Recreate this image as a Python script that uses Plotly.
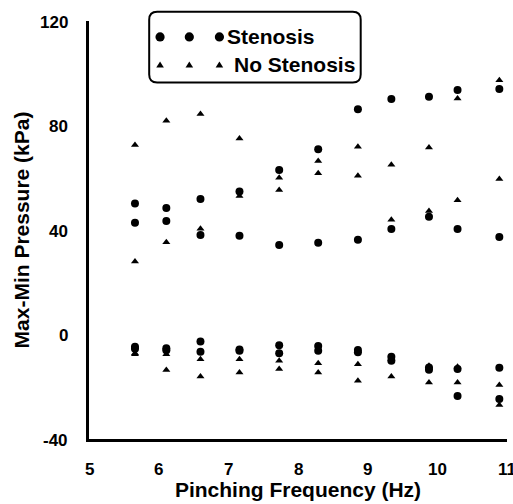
import plotly.graph_objects as go

# ---- data ----
freq = [5.66, 6.11, 6.60, 7.16, 7.73, 8.29, 8.86, 9.34, 9.88, 10.29, 10.89]

sten_upper1 = [50.1, 48.4, 51.9, 54.7, 63.0, 70.9, 86.2, 90.1, 91.0, 93.6, 94.0]
sten_upper2 = [42.8, 43.4, 38.1, 37.8, 34.3, 35.1, 36.3, 40.4, 45.1, 40.4, 37.3]
sten_lower1 = [-4.7, -5.3, -2.7, -5.7, -4.1, -4.4, -5.9, -8.5, -12.6, -13.2, -12.7]
sten_lower2 = [-5.5, -6.0, -6.6, -6.2, -7.2, -6.2, -6.8, -10.0, -13.5, -23.5, -24.7]

nosten_upper1 = [72.5, 81.8, 84.4, 75.0, 60.0, 66.4, 71.9, 65.0, 71.6, 90.3, 97.3]
nosten_upper2 = [27.9, 35.3, 40.5, 53.0, 55.3, 61.7, 60.8, 43.9, 47.3, 51.4, 59.5]
nosten_lower1 = [-7.2, -7.6, -9.5, -9.5, -10.0, -11.0, -11.4, -9.5, -12.0, -12.3, -19.3]
nosten_lower2 = [-7.6, -13.6, -16.1, -14.5, -13.2, -14.5, -17.7, -16.1, -18.4, -18.4, -27.0]

x_range = [5, 11]
y_range = [-40, 120]
x_ticks = [5, 6, 7, 8, 9, 10, 11]
x_minor = [5.5, 6.5, 7.5, 8.5, 9.5, 10.5]
y_ticks = [-40, 0, 40, 80, 120]
y_minor = [-20, 20, 60, 100]
legend_labels = ["Stenosis", "No Stenosis"]

FONT = "Liberation Sans"
BLACK = "#000000"
W, H = 513, 504
M = dict(l=89, r=6, t=21, b=65)
px_x = (W - M["l"] - M["r"]) / (x_range[1] - x_range[0])   # pixels per x unit
px_y = (H - M["t"] - M["b"]) / (y_range[1] - y_range[0])   # pixels per y unit

fig = go.Figure()

# triangles first (circles drawn on top)
for ys in [nosten_upper1, nosten_upper2, nosten_lower1, nosten_lower2]:
    fig.add_trace(go.Scatter(x=freq, y=ys, mode="markers", showlegend=False,
                             marker=dict(symbol="triangle-up", size=7, color=BLACK),
                             name=legend_labels[1]))
for ys in [sten_upper1, sten_upper2, sten_lower1, sten_lower2]:
    fig.add_trace(go.Scatter(x=freq, y=ys, mode="markers", showlegend=False,
                             marker=dict(symbol="circle", size=8, color=BLACK),
                             name=legend_labels[0]))

# ---- Origin-style outside ticks drawn as unclipped line markers ----
for vals, length in [(x_ticks, 13), (x_minor, 6.5)]:
    fig.add_trace(go.Scatter(
        x=vals, y=[y_range[0] - length / 2 / px_y] * len(vals), mode="markers",
        cliponaxis=False, showlegend=False, hoverinfo="skip",
        marker=dict(symbol="line-ns-open", size=length, color=BLACK,
                    line=dict(width=2.5, color=BLACK))))
for vals, length in [(y_ticks, 14.5), (y_minor, 7.5)]:
    fig.add_trace(go.Scatter(
        x=[x_range[0] - length / 2 / px_x] * len(vals), y=vals, mode="markers",
        cliponaxis=False, showlegend=False, hoverinfo="skip",
        marker=dict(symbol="line-ew-open", size=length, color=BLACK,
                    line=dict(width=2.5, color=BLACK))))


def fx(v):
    return (v - x_range[0]) / (x_range[1] - x_range[0])


def fy(v):
    return (v - y_range[0]) / (y_range[1] - y_range[0])


for v in x_ticks:
    fig.add_annotation(x=fx(v), y=0, xref="paper", yref="paper", text="<b>%d</b>" % v,
                       showarrow=False, xanchor="center", yanchor="middle", yshift=-30,
                       borderpad=0, font=dict(family=FONT, size=17, color=BLACK, weight="bold"))
for v in y_ticks:
    fig.add_annotation(x=0, y=fy(v), xref="paper", yref="paper", text="<b>%d</b>" % v,
                       showarrow=False, xanchor="right", yanchor="middle", xshift=-20,
                       yshift=-1, borderpad=0,
                       font=dict(family=FONT, size=17, color=BLACK, weight="bold"))

# ---- Origin-style legend (three sample markers per entry) ----
leg_x = [0.17, 0.24, 0.312]
for lx in leg_x:
    fig.add_shape(type="circle", xref="paper", yref="paper", xsizemode="pixel",
                  ysizemode="pixel", xanchor=lx, yanchor=0.962,
                  x0=-4.6, x1=4.6, y0=-4.6, y1=4.6,
                  fillcolor=BLACK, line=dict(width=0))
    fig.add_shape(type="path", xref="paper", yref="paper", xsizemode="pixel",
                  ysizemode="pixel", xanchor=lx, yanchor=0.895,
                  path="M -3.8,-2.6 L 3.8,-2.6 L 0,3.4 Z",
                  fillcolor=BLACK, line=dict(width=0))

r = 0.019
x0, x1, y0, y1 = 0.144, 0.650, 0.853, 1.022
path = (f"M {x0+r},{y0} L {x1-r},{y0} Q {x1},{y0} {x1},{y0+r} L {x1},{y1-r} "
        f"Q {x1},{y1} {x1-r},{y1} L {x0+r},{y1} Q {x0},{y1} {x0},{y1-r} "
        f"L {x0},{y0+r} Q {x0},{y0} {x0+r},{y0} Z")
fig.add_shape(type="path", path=path, xref="paper", yref="paper",
              line=dict(color=BLACK, width=2), fillcolor="rgba(0,0,0,0)")

fig.add_annotation(x=0.325, y=0.962, xref="paper", yref="paper", text="<b>" + legend_labels[0] + "</b>",
                   showarrow=False, xanchor="left", yanchor="middle",
                   font=dict(family=FONT, size=21, color=BLACK))
fig.add_annotation(x=0.342, y=0.895, xref="paper", yref="paper", text="<b>" + legend_labels[1] + "</b>",
                   showarrow=False, xanchor="left", yanchor="middle",
                   font=dict(family=FONT, size=21, color=BLACK))

common = dict(showline=True, linewidth=2.5, linecolor=BLACK, ticks="", showticklabels=False,
              showgrid=False, zeroline=False)

fig.update_layout(
    width=W, height=H,
    margin=M,
    paper_bgcolor="white", plot_bgcolor="white",
    font=dict(family=FONT, color=BLACK),
    xaxis=dict(range=x_range,
               title=dict(text="<b>Pinching Frequency (Hz)</b>", standoff=42,
                          font=dict(family=FONT, size=21, color=BLACK)), **common),
    yaxis=dict(range=y_range,
               title=dict(text="<b>Max-Min Pressure (kPa)</b>", standoff=51,
                          font=dict(family=FONT, size=21, color=BLACK)), **common),
)

fig.write_html("out.html")
